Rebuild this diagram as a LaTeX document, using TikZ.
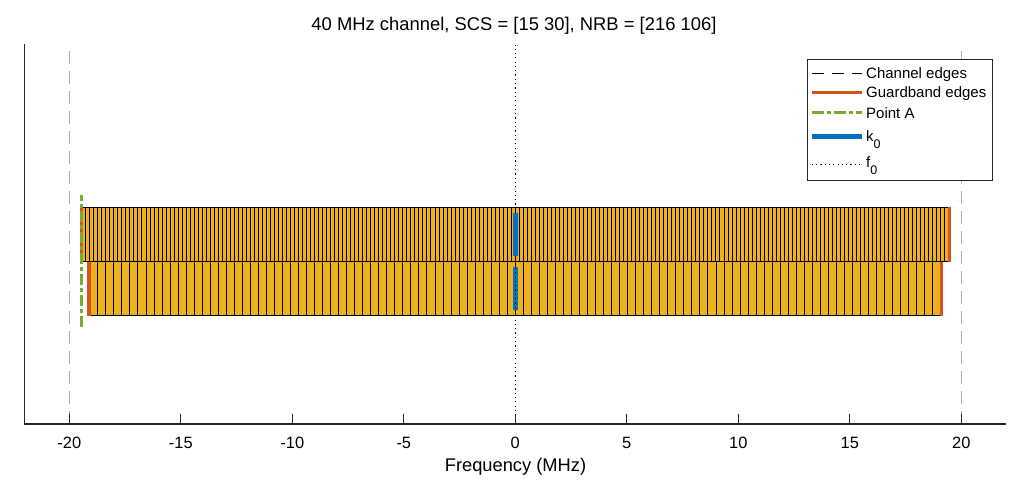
\documentclass[tikz,border=0pt]{standalone}
\usepackage{fontspec}
\setmainfont{Liberation Sans}
\definecolor{gridfill}{RGB}{237,177,32}
\definecolor{gbedge}{RGB}{217,83,25}
\definecolor{ptA}{RGB}{119,172,48}
\definecolor{kzero}{RGB}{0,114,189}
\definecolor{axcol}{gray}{0.15}
\definecolor{chedge}{gray}{0.68}
\tikzset{
  rbline/.style={black, line width=1pt},
  chline/.style={chedge, line width=1.5pt, dash pattern=on 13pt off 7pt},
  gbline/.style={gbedge, line width=3.6pt},
  ptaline/.style={ptA, line width=3pt, dash pattern=on 11pt off 3pt on 4pt off 3pt},
  k0line/.style={kzero, line width=5.5pt},
  f0line/.style={black, line width=0.8pt, dash pattern=on 1.2pt off 3.1pt},
  axline/.style={axcol, line width=1.3pt},
  tickmark/.style={axcol, line width=1pt},
  ticklab/.style={font=\fontsize{16.4}{16.4}\selectfont, anchor=base, inner sep=0pt},
  legtext/.style={font=\fontsize{15}{15}\selectfont, anchor=base west, inner sep=0pt},
  legchline/.style={black, line width=0.8pt, dash pattern=on 12pt off 8pt},
  legptaline/.style={ptA, line width=3pt, dash pattern=on 12pt off 3pt on 4pt off 3pt},
  legf0line/.style={black, line width=0.8pt, dash pattern=on 1.2pt off 3.1pt},
}
\newcommand{\legsub}[1]{\raisebox{-6.7pt}{\fontsize{12.5}{12.5}\selectfont #1}}
\begin{document}
\begin{tikzpicture}[x=1pt,y=1pt]
\useasboundingbox[fill=white] (0,0) rectangle (1025,494);
\begin{scope}[shift={(515.3pt,70pt)}, x=22.3pt, y=54.14pt]
  % channel edges
  \draw[chline] (-20,0) -- (-20,6.95);
  \draw[chline] (20,0) -- (20,6.95);
  % upper resource grid (SCS 15 kHz, 216 RB)
  \fill[gridfill] (-19.44,3) rectangle (19.44,4);
  \foreach \i in {0,...,216} \draw[rbline] ({-19.44+0.18*\i},3) -- ++(0,1);
  \draw[rbline] (-19.44,3) -- (19.44,3) (-19.44,4) -- (19.44,4);
  % lower resource grid (SCS 30 kHz, 106 RB)
  \fill[gridfill] (-19.08,2) rectangle (19.08,3);
  \foreach \i in {0,...,106} \draw[rbline] ({-19.08+0.36*\i},2) -- ++(0,1);
  \draw[rbline] (-19.08,2) -- (19.08,2) (-19.08,3) -- (19.08,3);
  % guardband edges
  \draw[gbline] (-19.45,3) -- (-19.45,4);
  \draw[gbline] (19.47,3) -- (19.47,4);
  \draw[gbline] (-19.12,2) -- (-19.12,3);
  \draw[gbline] (19.12,2) -- (19.12,3);
  % point A
  \draw[ptaline] (-19.47,1.79) -- (-19.47,4.23);
  % k0 and f0
  \draw[k0line] (0,2.1) -- (0,2.9);
  \draw[f0line] (0,0) -- (0,7);
  \draw[k0line] (0,3.1) -- (0,3.9);
  % axes
  \draw[axline] (-22,7.02) -- (-22,0) -- (22,0);
  \foreach \t in {-20,-15,...,20} {
    \draw[tickmark] (\t,0) -- ++(0,10pt);
    \node[ticklab, yshift=-24.3pt] (tl\t) at (\t,0) {\t};
  }
\end{scope}
% title and axis label
\node[font=\fontsize{18.4}{18.4}\selectfont, anchor=base, inner sep=0pt] (title) at (514,463.5) {40 MHz channel, SCS = [15 30], NRB = [216 106]};
\node[font=\fontsize{18.3}{18.3}\selectfont, anchor=base, inner sep=0pt] (xlabel) at (515.5,22.3) {Frequency (MHz)};
% legend
\draw[black!85, line width=0.9pt, fill=white] (807.3,434.7) rectangle (992.3,313.3);
\coordinate (l1a) at (811.7,420.7); \coordinate (l1b) at (862.3,420.7);
\coordinate (l2a) at (811.7,401.3); \coordinate (l2b) at (862.3,401.3);
\coordinate (l3a) at (811.7,381.3); \coordinate (l3b) at (862.3,381.3);
\coordinate (l4a) at (811.7,357.3); \coordinate (l4b) at (862.3,357.3);
\coordinate (l5a) at (811.7,329.5); \coordinate (l5b) at (862.3,329.5);
\draw[legchline] (l1a) -- (l1b);
\draw[gbline] (l2a) -- (l2b);
\draw[legptaline] (l3a) -- (l3b);
\draw[k0line] (l4a) -- (l4b);
\draw[legf0line] (l5a) -- (l5b);
\node[legtext] (t1) at (866,415.7) {Channel edges};
\node[legtext] (t2) at (866,396.3) {Guardband edges};
\node[legtext] (t3) at (866,375.7) {Point A};
\node[legtext] (t4) at (866,352) {k\legsub{0}};
\node[legtext] (t5) at (866,326.5) {f\legsub{0}};
\end{tikzpicture}
\end{document}
